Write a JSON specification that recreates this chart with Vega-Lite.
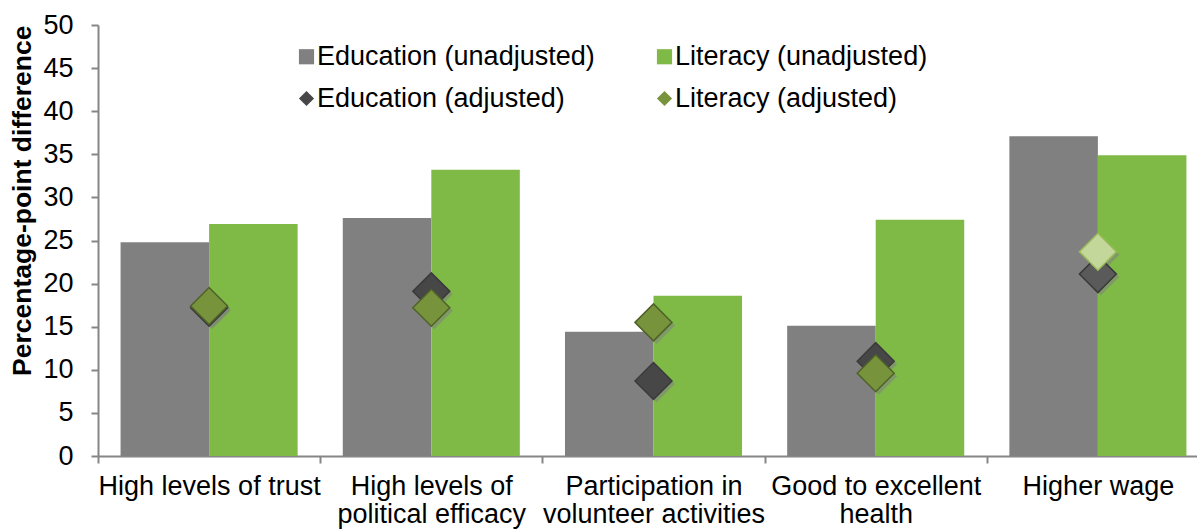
{
  "$schema": "https://vega.github.io/schema/vega-lite/v6.json",
  "width": 1099,
  "height": 431,
  "autosize": {"type": "none"},
  "padding": {"left": 98, "top": 25, "right": 0, "bottom": 73},
  "background": "white",
  "config": {
    "font": "Liberation Sans",
    "view": {"stroke": null},
    "axis": {
      "domainColor": "#868686",
      "domainWidth": 2,
      "tickColor": "#868686",
      "tickWidth": 2,
      "tickSize": 7,
      "labelFontSize": 27,
      "labelColor": "#000000",
      "grid": false
    },
    "legend": {
      "labelLimit": 400
    }
  },
  "datasets": {
    "bars": [
      {"category": "High levels of trust", "measure": "Education", "series": "Education (unadjusted)", "value": 24.8},
      {"category": "High levels of trust", "measure": "Literacy", "series": "Literacy (unadjusted)", "value": 26.9},
      {"category": "High levels of political efficacy", "measure": "Education", "series": "Education (unadjusted)", "value": 27.6},
      {"category": "High levels of political efficacy", "measure": "Literacy", "series": "Literacy (unadjusted)", "value": 33.2},
      {"category": "Participation in volunteer activities", "measure": "Education", "series": "Education (unadjusted)", "value": 14.4},
      {"category": "Participation in volunteer activities", "measure": "Literacy", "series": "Literacy (unadjusted)", "value": 18.6},
      {"category": "Good to excellent health", "measure": "Education", "series": "Education (unadjusted)", "value": 15.1},
      {"category": "Good to excellent health", "measure": "Literacy", "series": "Literacy (unadjusted)", "value": 27.4},
      {"category": "Higher wage", "measure": "Education", "series": "Education (unadjusted)", "value": 37.1},
      {"category": "Higher wage", "measure": "Literacy", "series": "Literacy (unadjusted)", "value": 34.9}
    ],
    "points": [
      {"category": "High levels of trust", "series": "Education (adjusted)", "value": 17.2, "significant": true},
      {"category": "High levels of political efficacy", "series": "Education (adjusted)", "value": 19.1, "significant": true},
      {"category": "Participation in volunteer activities", "series": "Education (adjusted)", "value": 8.7, "significant": true},
      {"category": "Good to excellent health", "series": "Education (adjusted)", "value": 11.0, "significant": true},
      {"category": "Higher wage", "series": "Education (adjusted)", "value": 21.1, "significant": false},
      {"category": "High levels of trust", "series": "Literacy (adjusted)", "value": 17.4, "significant": true},
      {"category": "High levels of political efficacy", "series": "Literacy (adjusted)", "value": 17.2, "significant": true},
      {"category": "Participation in volunteer activities", "series": "Literacy (adjusted)", "value": 15.5, "significant": true},
      {"category": "Good to excellent health", "series": "Literacy (adjusted)", "value": 9.6, "significant": true},
      {"category": "Higher wage", "series": "Literacy (adjusted)", "value": 23.7, "significant": false}
    ]
  },
  "encoding": {
    "x": {
      "field": "category",
      "type": "nominal",
      "sort": ["High levels of trust", "High levels of political efficacy", "Participation in volunteer activities", "Good to excellent health", "Higher wage"],
      "scale": {"range": [0, 1111], "paddingInner": 0, "paddingOuter": 0},
      "axis": {
        "title": null,
        "labelAngle": 0,
        "tickBand": "extent",
        "labelPadding": 10,
        "labelLimit": 400,
        "labelLineHeight": 28,
        "labelExpr": "datum.label == 'High levels of political efficacy' ? ['High levels of', 'political efficacy'] : datum.label == 'Participation in volunteer activities' ? ['Participation in', 'volunteer activities'] : datum.label == 'Good to excellent health' ? ['Good to excellent', 'health'] : datum.label"
      }
    },
    "y": {
      "field": "value",
      "type": "quantitative",
      "scale": {"domain": [0, 50], "nice": false},
      "axis": {
        "title": "Percentage-point difference",
        "titleFontSize": 26.5,
        "titleFontWeight": "bold",
        "titleColor": "#000000",
        "titleAnchor": "end",
        "titlePadding": 6,
        "values": [0, 5, 10, 15, 20, 25, 30, 35, 40, 45, 50],
        "labelPadding": 18
      }
    }
  },
  "layer": [
    {
      "data": {"name": "bars"},
      "mark": {"type": "bar"},
      "encoding": {
        "xOffset": {"field": "measure", "type": "nominal", "scale": {"paddingOuter": 0.255, "paddingInner": 0}},
        "color": {
          "field": "series",
          "type": "nominal",
          "scale": {
            "domain": ["Education (unadjusted)", "Literacy (unadjusted)", "Education (adjusted)", "Literacy (adjusted)"],
            "range": ["#808080", "#7fba47", "#474747", "#77933c"]
          },
          "legend": {
            "title": null,
            "orient": "none",
            "direction": "horizontal",
            "legendX": 195,
            "legendY": 18,
            "columns": 2,
            "labelFontSize": 27,
            "labelColor": "#000000",
            "labelOffset": -3,
            "labelLimit": 400,
            "symbolSize": 230,
            "symbolStrokeWidth": 0,
            "rowPadding": 14,
            "columnPadding": 56
          }
        }
      }
    },
    {
      "data": {"name": "points"},
      "mark": {"type": "point", "shape": "diamond", "filled": true, "size": 1369, "color": "#7f7f7f", "opacity": 0.55, "xOffset": 3, "yOffset": 3},
      "encoding": {}
    },
    {
      "data": {"name": "points"},
      "mark": {"type": "point", "filled": true, "size": 1369, "opacity": 1, "strokeWidth": 1.5},
      "encoding": {
        "shape": {
          "field": "series",
          "type": "nominal",
          "scale": {
            "domain": ["Education (unadjusted)", "Literacy (unadjusted)", "Education (adjusted)", "Literacy (adjusted)"],
            "range": ["square", "square", "diamond", "diamond"]
          },
          "legend": {
            "title": null,
            "orient": "none",
            "direction": "horizontal",
            "legendX": 195,
            "legendY": 18,
            "columns": 2,
            "labelFontSize": 27,
            "labelColor": "#000000",
            "labelOffset": -3,
            "labelLimit": 400,
            "symbolSize": 230,
            "symbolStrokeWidth": 0,
            "rowPadding": 14,
            "columnPadding": 56
          }
        },
        "color": {
          "condition": [
            {"test": "!datum.significant && datum.series == 'Literacy (adjusted)'", "value": "#c4d79b"},
            {"test": "!datum.significant", "value": "#5a5a5a"}
          ],
          "field": "series",
          "type": "nominal"
        },
        "stroke": {
          "condition": [
            {"test": "!datum.significant && datum.series == 'Literacy (adjusted)'", "value": "#9bbb59"},
            {"test": "datum.series == 'Literacy (adjusted)'", "value": "#4f6228"}
          ],
          "value": "#3a3a3a"
        }
      }
    }
  ]
}
